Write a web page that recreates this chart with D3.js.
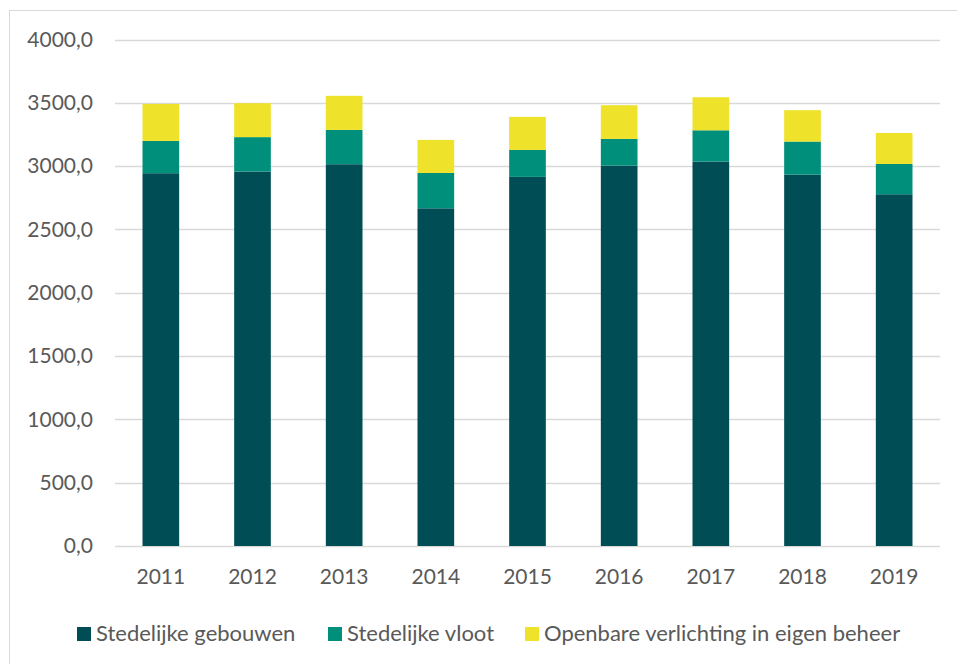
<!DOCTYPE html>
<html><head><meta charset="utf-8">
<script src="https://cdn.jsdelivr.net/npm/d3@7/dist/d3.min.js"></script>
<style>body{margin:0;background:#fff;} svg{display:block;}</style>
</head><body>
<script>
const years = ["2011","2012","2013","2014","2015","2016","2017","2018","2019"];
const gebouwen = [2944, 2957, 3015, 2667, 2915, 3004, 3036, 2933, 2778];
const vloot = [255, 272, 271, 279, 213, 211, 247, 261, 239];
const verlichting = [292, 268, 269, 261, 261, 266, 261, 248, 245];
const seriesNames = ["Stedelijke gebouwen", "Stedelijke vloot", "Openbare verlichting in eigen beheer"];
const colors = ["#004D56", "#008F7A", "#EFE22A"];
const yTicks = [0, 500, 1000, 1500, 2000, 2500, 3000, 3500, 4000];

const W = 957, H = 664;
const svg = d3.select("body").append("svg").attr("width", W).attr("height", H);
const font = "Lato, 'Open Sans', sans-serif";

svg.append("rect").attr("x", 9.5).attr("y", 10.5).attr("width", W + 20).attr("height", H + 20)
  .attr("fill", "none").attr("stroke", "#D9D9D9").attr("stroke-width", 1);

const mLeft = 115, mRight = 940, mTop = 39.5, mBottom = 546;
const x = d3.scaleBand().domain(years).range([mLeft, mRight]).paddingInner(0.6).paddingOuter(0.3);
const y = d3.scaleLinear().domain([0, 4000]).range([mBottom, mTop]);

const fmt = v => d3.format(".1f")(v).replace(".", ",");

const grid = svg.append("g");
yTicks.forEach(t => {
  grid.append("line").attr("x1", mLeft).attr("x2", mRight)
    .attr("y1", Math.round(y(t)) + 0.5).attr("y2", Math.round(y(t)) + 0.5)
    .attr("stroke", "#D9D9D9").attr("stroke-width", 1.5);
});

const yAxis = d3.axisLeft(y).tickValues(yTicks).tickFormat(fmt).tickSize(0).tickPadding(22);
const ya = svg.append("g").attr("transform", `translate(${mLeft},0)`).call(yAxis);
ya.select(".domain").remove();
ya.selectAll("text").attr("fill", "#595959").style("font-family", font).style("font-size", "21px");

const xAxis = d3.axisBottom(x).tickSize(0).tickPadding(23);
const xa = svg.append("g").attr("transform", `translate(0,${mBottom})`).call(xAxis);
xa.select(".domain").remove();
xa.selectAll("text").attr("fill", "#595959").style("font-family", font).style("font-size", "21px");

const data = years.map((yr, i) => ({year: yr, a: gebouwen[i], b: vloot[i], c: verlichting[i]}));
const stack = d3.stack().keys(["a", "b", "c"]);
const stacked = stack(data);

svg.append("g").selectAll("g").data(stacked).join("g")
  .attr("fill", (d, i) => colors[i])
  .selectAll("rect").data(d => d).join("rect")
  .attr("x", d => x(d.data.year))
  .attr("width", x.bandwidth())
  .attr("y", d => y(d[1]))
  .attr("height", d => y(d[0]) - y(d[1]));

// legend
const legendX = [77, 328, 525];
const lg = svg.append("g");
seriesNames.forEach((n, i) => {
  lg.append("rect").attr("x", legendX[i]).attr("y", 627).attr("width", 14).attr("height", 14).attr("fill", colors[i]);
  lg.append("text").attr("x", legendX[i] + 19).attr("y", 641).text(n)
    .attr("fill", "#595959").style("font-family", font).style("font-size", "22px");
});
</script>
</body></html>
